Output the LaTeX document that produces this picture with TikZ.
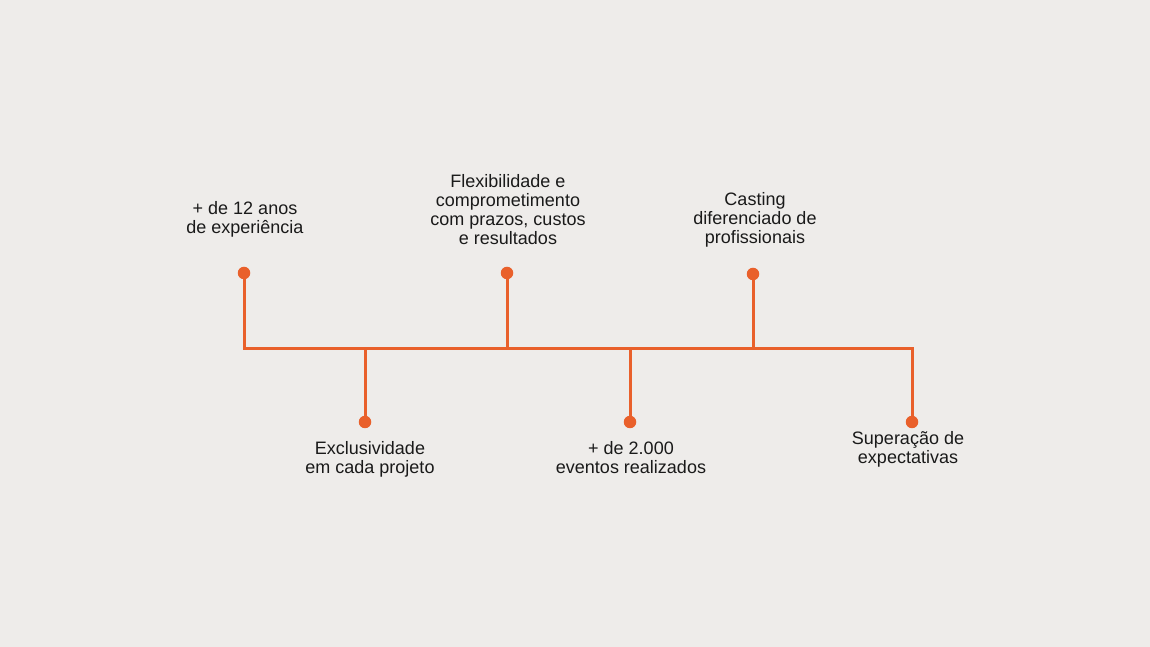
\documentclass[tikz,border=0pt]{standalone}
\usepackage{fontspec}
\setmainfont{Liberation Sans}
\usepackage{tikz}
\usetikzlibrary{calc, positioning}

\definecolor{bgcol}{HTML}{EEECEA}
\definecolor{linecol}{HTML}{E9602B}
\definecolor{txtcol}{HTML}{1A1A1A}

\tikzset{
  dot/.style={circle, fill=linecol, inner sep=0pt, minimum size=12.5pt},
  stem/.style={draw=linecol, line width=3pt},
  lbl/.style={align=center, text=txtcol, font=\fontsize{18}{19}\selectfont, inner sep=0pt}
}

\begin{document}
\begin{tikzpicture}[x=1pt, y=1pt]
			% Canvas
			\fill[bgcol] (0,0) rectangle (1150,647);
			\useasboundingbox (0,0) rectangle (1150,647);
			
			% Definitions
			\coordinate (J1) at (244,298);
			\coordinate (J2) at (365,298);
			\coordinate (J3) at (507,298);
			\coordinate (J4) at (630,298);
			\coordinate (J5) at (753,298);
			\coordinate (J6) at (912,298);
			
			% Dots
			\node[dot] (D1) at (244,374) {};
			\node[dot] (D2) at (365,225) {};
			\node[dot] (D3) at (507,374) {};
			\node[dot] (D4) at (630,225) {};
			\node[dot] (D5) at (753,373) {};
			\node[dot] (D6) at (912,225) {};
			
			% Main line
			\draw[stem] (D1.center) -- (J1) -- (J6) -- (D6.center);
			\draw[stem] (J2) -- (D2.center);
			\draw[stem] (J3) -- (D3.center);
			\draw[stem] (J4) -- (D4.center);
			\draw[stem] (J5) -- (D5.center);
			
			% Labels
			\node[lbl] (L1) at (245,428) {+ de 12 anos\\de experiência};
			\node[lbl] (L3) at (508,437.5) {Flexibilidade e\\comprometimento\\com prazos, custos\\e resultados};
			\node[lbl] (L5) at (755,427) {Casting\\diferenciado de\\profissionais};
			\node[lbl] (L2) at (370,188) {Exclusividade\\em cada projeto};
			\node[lbl] (L4) at (631,189) {+ de 2.000\\eventos realizados};
			\node[lbl] (L6) at (908,198) {Superação de\\expectativas};
		\end{tikzpicture}
\end{document}
